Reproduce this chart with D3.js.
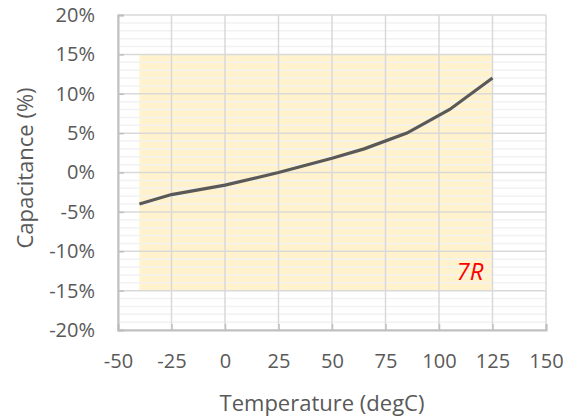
<!DOCTYPE html>
<html><head><meta charset="utf-8">
<script src="https://cdn.jsdelivr.net/npm/d3@7"></script>
<style>body{margin:0;background:#fff}svg{display:block}text{font-family:"Open Sans","Liberation Sans",sans-serif}</style>
</head><body><svg id="c" width="571" height="418"></svg>
<script>
const temps = [-40, -25, 0, 25, 50, 65, 85, 105, 125];
const capChange = [-4, -2.8, -1.6, 0, 1.8, 3, 5, 8, 12];
const xTicks = [-50, -25, 0, 25, 50, 75, 100, 125, 150];
const yTicks = [-20, -15, -10, -5, 0, 5, 10, 15, 20];
const bandX = [-40, 125];
const bandY = [-15, 15];
const label = "7R";

const svg = d3.select("#c");
const L = 118, R = 546, T = 15, B = 330;
const x = d3.scaleLinear().domain([-50, 150]).range([L, R]);
const y = d3.scaleLinear().domain([-20, 20]).range([B, T]);

// band
svg.append("rect").attr("x", x(bandX[0])).attr("y", y(bandY[1]))
  .attr("width", x(bandX[1]) - x(bandX[0])).attr("height", y(bandY[0]) - y(bandY[1]))
  .attr("fill", "#fff2cc");

// minor gridlines
const minor = d3.range(-20, 20.01, 1).filter(v => v % 5 !== 0);
svg.append("g").selectAll("line").data(minor).join("line")
  .attr("x1", L).attr("x2", R).attr("y1", d => y(d)).attr("y2", d => y(d))
  .attr("stroke", "#f2f2f2").attr("stroke-width", 1.5);

// major gridlines
svg.append("g").selectAll("line").data(yTicks).join("line")
  .attr("x1", L).attr("x2", R).attr("y1", d => y(d)).attr("y2", d => y(d))
  .attr("stroke", "#d9d9d9").attr("stroke-width", 1.5);
svg.append("g").selectAll("line").data(xTicks).join("line")
  .attr("y1", T).attr("y2", B).attr("x1", d => x(d)).attr("x2", d => x(d))
  .attr("stroke", "#d9d9d9").attr("stroke-width", 1.5);

// axes
const ya = svg.append("g").attr("transform", `translate(${L},0)`)
  .call(d3.axisLeft(y).tickValues(yTicks).tickSize(-6).tickPadding(23).tickFormat(d => d + "%"));
const xa = svg.append("g").attr("transform", `translate(0,${B})`)
  .call(d3.axisBottom(x).tickValues(xTicks).tickSize(-6).tickPadding(24).tickFormat(d => d));
[ya, xa].forEach(a => {
  a.select(".domain").attr("stroke", "#bfbfbf").attr("stroke-width", 2);
  a.selectAll(".tick line").attr("stroke", "#bfbfbf").attr("stroke-width", 1.5);
  a.selectAll("text").attr("fill", "#595959").style("font-size", "20px");
});

// line
svg.append("path").datum(temps.map((t, i) => [t, capChange[i]]))
  .attr("d", d3.line().x(d => x(d[0])).y(d => y(d[1])))
  .attr("fill", "none").attr("stroke", "#595959").attr("stroke-width", 3.2);

// label
svg.append("text").attr("x", x(125) - 9).attr("y", 280).attr("text-anchor", "end")
  .attr("fill", "#ff0000").style("font-size", "24px").style("font-style", "italic").text(label);

// titles
svg.append("text").attr("x", (L + R) / 2 - 10).attr("y", 411).attr("text-anchor", "middle")
  .attr("fill", "#595959").style("font-size", "22px").text("Temperature (degC)");
svg.append("text").attr("transform", `translate(33,168) rotate(-90)`).attr("text-anchor", "middle")
  .attr("fill", "#595959").style("font-size", "22px").text("Capacitance (%)");
</script></body></html>
